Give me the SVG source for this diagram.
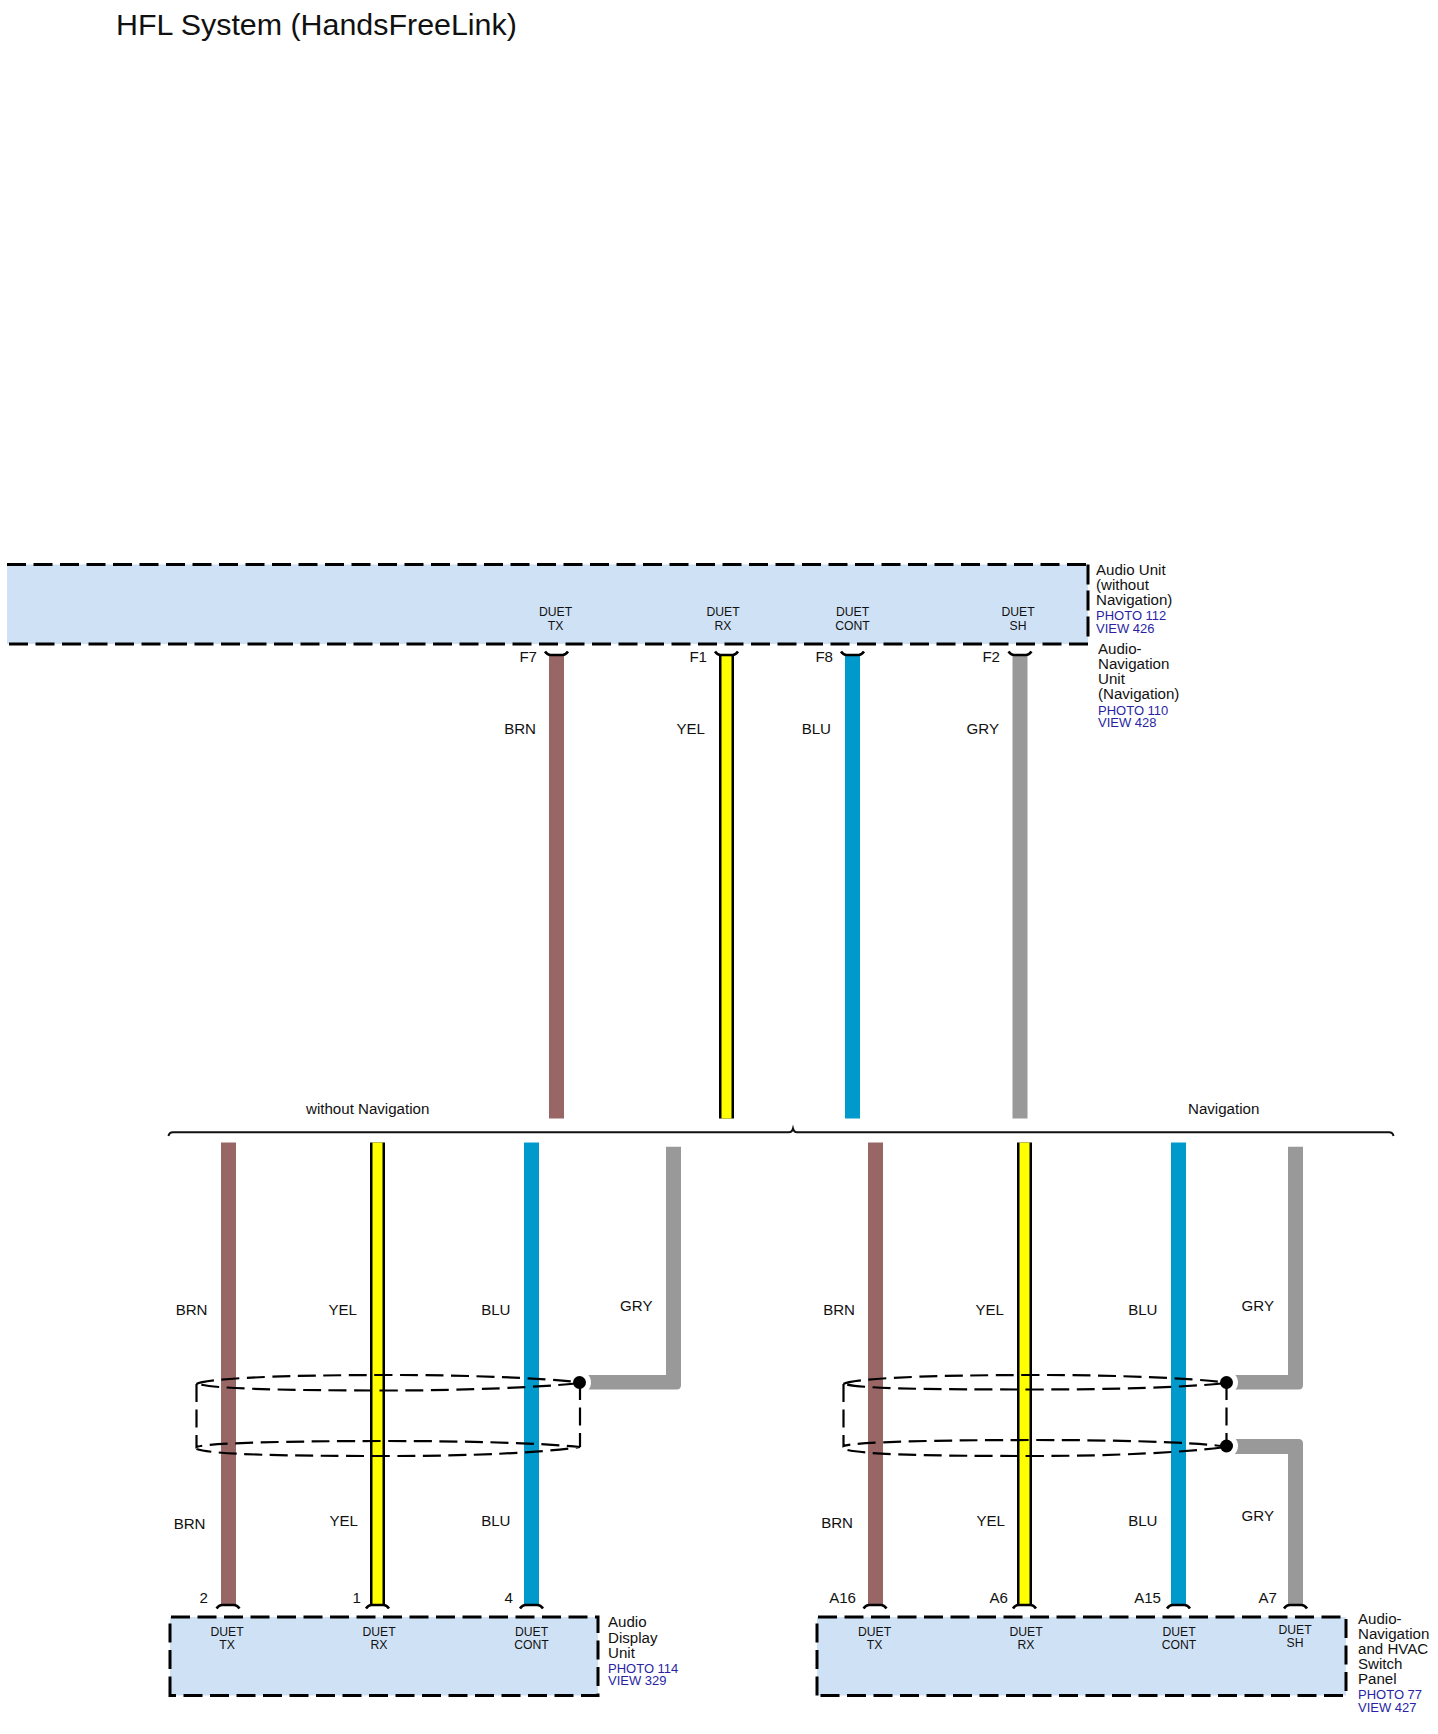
<svg xmlns="http://www.w3.org/2000/svg" xmlns:xlink="http://www.w3.org/1999/xlink" width="1438" height="1734" viewBox="0 0 1438 1734">
<style>
text{font-family:"Liberation Sans",Arial,sans-serif;fill:#111}
.title{font-size:30.400px}
.lbl{font-size:15.100px}
.pin{font-size:12.200px;text-anchor:middle}
.r{text-anchor:end}
.link{font-size:13px;fill:#2a1fa5}
.box{fill:#cfe2f5;stroke:none}
.dash{fill:none;stroke:#000;stroke-width:3;stroke-dasharray:19 7.5}
.shield{fill:none;stroke:#000;stroke-width:2.200;stroke-dasharray:18 7.500}
.brn{fill:#996666}.blu{fill:#0099cc}.gry{fill:#999999}
.yel{fill:#ffff00}.edge{fill:#000}
.halo{fill:#fff}
.cap{fill:none;stroke:#000;stroke-width:2.600}
.brace{fill:none;stroke:#111;stroke-width:2}
</style>
<defs>
<path id="capTop" class="cap" d="M-11.500 -3.500Q-9 0 -6 0H6Q9 0 11.500 -3.500"/>
<path id="capBot" class="cap" d="M-11.500 3.500Q-9 0 -6 0H6Q9 0 11.500 3.500"/>
<path id="lensL" d="M196.500 1384C205 1378 290 1375 388 1375C470 1375 540 1378 576 1382M576 1383.500C540 1387 470 1390.500 388 1390.500C290 1390.500 215 1389 198 1384M196.500 1384V1447C205 1443 290 1441 388 1441C470 1441 540 1443 580 1447C540 1453 470 1456 388 1456C290 1456 215 1455 196.500 1449"/>
<path id="lensR" d="M843.500 1384C852 1378 937 1375 1035 1375C1117 1375 1187 1378 1222 1382M1222 1383.500C1187 1387 1117 1389.500 1035 1389.500C937 1389.500 862 1389 845 1384M843.500 1384V1446C852 1442 937 1440 1035 1440C1117 1440 1187 1442 1222 1446M1222 1447.500C1187 1452 1117 1456 1035 1456C937 1456 862 1455 843.500 1449"/>
</defs>
<rect width="1438" height="1734" fill="#fff"/>
<text class="title" x="116" y="35">HFL System (HandsFreeLink)</text>

<g id="node-audio-unit">
<rect class="box" x="7" y="564.500" width="1081" height="79.500"/>
<path class="dash" d="M7 564.500H1088"/>
<path class="dash" d="M9 644H1089"/>
<path class="dash" d="M1088 564.500V640" style="stroke-dasharray:20 6"/>
<text class="pin"><tspan x="555.500" y="616">DUET</tspan><tspan x="555.500" y="630">TX</tspan></text>
<text class="pin"><tspan x="723" y="616">DUET</tspan><tspan x="723" y="630">RX</tspan></text>
<text class="pin"><tspan x="852.500" y="616">DUET</tspan><tspan x="852.500" y="630">CONT</tspan></text>
<text class="pin"><tspan x="1018" y="616">DUET</tspan><tspan x="1018" y="630">SH</tspan></text>
<text class="lbl"><tspan x="1096" y="575">Audio Unit</tspan><tspan x="1096" y="590">(without</tspan><tspan x="1096" y="605">Navigation)</tspan></text>
<text class="link"><tspan x="1096" y="620">PHOTO 112</tspan><tspan x="1096" y="633">VIEW 426</tspan></text>
<text class="lbl"><tspan x="1098" y="654">Audio-</tspan><tspan x="1098" y="669">Navigation</tspan><tspan x="1098" y="684">Unit</tspan><tspan x="1098" y="699">(Navigation)</tspan></text>
<text class="link"><tspan x="1098" y="715">PHOTO 110</tspan><tspan x="1098" y="727">VIEW 428</tspan></text>
<text class="lbl r" x="537" y="662">F7</text>
<text class="lbl r" x="707" y="662">F1</text>
<text class="lbl r" x="833" y="662">F8</text>
<text class="lbl r" x="1000" y="662">F2</text>
</g>

<g id="node-audio-display">
<rect class="box" x="170" y="1617" width="428" height="78.500"/>
<path class="dash" d="M170 1695.500V1617H598V1695.500Z"/>
<text class="pin"><tspan x="227" y="1635.500">DUET</tspan><tspan x="227" y="1649">TX</tspan></text>
<text class="pin"><tspan x="379" y="1635.500">DUET</tspan><tspan x="379" y="1649">RX</tspan></text>
<text class="pin"><tspan x="531.500" y="1635.500">DUET</tspan><tspan x="531.500" y="1649">CONT</tspan></text>
<text class="lbl"><tspan x="608" y="1627">Audio</tspan><tspan x="608" y="1643">Display</tspan><tspan x="608" y="1657.500">Unit</tspan></text>
<text class="link"><tspan x="608" y="1673">PHOTO 114</tspan><tspan x="608" y="1685">VIEW 329</tspan></text>
<text class="lbl r" x="208" y="1603">2</text>
<text class="lbl r" x="361" y="1603">1</text>
<text class="lbl r" x="513" y="1603">4</text>
</g>

<g id="node-hvac-panel">
<rect class="box" x="817" y="1617" width="529" height="78.500"/>
<path class="dash" d="M817 1695.500V1617H1346V1695.500Z"/>
<text class="pin"><tspan x="874.500" y="1635.500">DUET</tspan><tspan x="874.500" y="1648.500">TX</tspan></text>
<text class="pin"><tspan x="1026" y="1635.500">DUET</tspan><tspan x="1026" y="1648.500">RX</tspan></text>
<text class="pin"><tspan x="1179" y="1635.500">DUET</tspan><tspan x="1179" y="1648.500">CONT</tspan></text>
<text class="pin"><tspan x="1295" y="1633.500">DUET</tspan><tspan x="1295" y="1646.500">SH</tspan></text>
<text class="lbl"><tspan x="1358" y="1624">Audio-</tspan><tspan x="1358" y="1639">Navigation</tspan><tspan x="1358" y="1654">and HVAC</tspan><tspan x="1358" y="1669">Switch</tspan><tspan x="1358" y="1684">Panel</tspan></text>
<text class="link"><tspan x="1358" y="1699">PHOTO 77</tspan><tspan x="1358" y="1712">VIEW 427</tspan></text>
<text class="lbl r" x="856" y="1603">A16</text>
<text class="lbl r" x="1008" y="1603">A6</text>
<text class="lbl r" x="1161" y="1603">A15</text>
<text class="lbl r" x="1277" y="1603">A7</text>
</g>

<g id="connectors">
<rect class="brn" x="549" y="655" width="15" height="463.500"/>
<rect class="edge" x="719" y="655" width="15" height="463.500"/>
<rect class="yel" x="721.500" y="655" width="10" height="463.500"/>
<rect class="blu" x="845" y="655" width="15" height="463.500"/>
<rect class="gry" x="1012.500" y="655" width="15" height="463.500"/>
<use xlink:href="#capTop" href="#capTop" x="556.500" y="655"/>
<use xlink:href="#capTop" href="#capTop" x="726.500" y="655"/>
<use xlink:href="#capTop" href="#capTop" x="852.500" y="655"/>
<use xlink:href="#capTop" href="#capTop" x="1020" y="655"/>

<path class="brace" d="M168.500 1136Q169 1132.500 173 1132.300H789Q792 1132.300 793 1128.500Q794 1132.300 797 1132.300H1389Q1393 1132.500 1393.500 1136"/>

<rect class="brn" x="221" y="1142.500" width="15" height="461.500"/>
<rect class="edge" x="370" y="1142.500" width="15" height="461.500"/>
<rect class="yel" x="372.500" y="1142.500" width="10" height="461.500"/>
<rect class="blu" x="524" y="1142.500" width="15" height="461.500"/>
<path class="gry" d="M585 1375H666V1146.700H681V1385Q681 1389.500 676.500 1389.500H585Z"/>
<use xlink:href="#capBot" href="#capBot" x="228" y="1605"/>
<use xlink:href="#capBot" href="#capBot" x="377.500" y="1605"/>
<use xlink:href="#capBot" href="#capBot" x="531.500" y="1605"/>
<circle class="halo" cx="579.500" cy="1382.500" r="11.500"/>
<use xlink:href="#lensL" href="#lensL" class="shield"/>
<path class="shield" d="M580 1382V1447"/>
<circle cx="579.500" cy="1382.500" r="6.500"/>

<rect class="brn" x="868" y="1142.500" width="15" height="461.500"/>
<rect class="edge" x="1017" y="1142.500" width="15" height="461.500"/>
<rect class="yel" x="1019.500" y="1142.500" width="10" height="461.500"/>
<rect class="blu" x="1171" y="1142.500" width="15" height="461.500"/>
<path class="gry" d="M1232 1375H1288V1146.700H1303V1385Q1303 1389.500 1298.500 1389.500H1232Z"/>
<path class="gry" d="M1232 1439H1298.500Q1303 1439 1303 1443.500V1604H1288V1454H1232Z"/>
<use xlink:href="#capBot" href="#capBot" x="875" y="1605"/>
<use xlink:href="#capBot" href="#capBot" x="1024.500" y="1605"/>
<use xlink:href="#capBot" href="#capBot" x="1178.500" y="1605"/>
<use xlink:href="#capBot" href="#capBot" x="1295.500" y="1605"/>
<circle class="halo" cx="1226.500" cy="1382.500" r="11.500"/>
<circle class="halo" cx="1226.500" cy="1446" r="11.500"/>
<use xlink:href="#lensR" href="#lensR" class="shield"/>
<path class="shield" d="M1226.500 1382V1446"/>
<circle cx="1226.500" cy="1382.500" r="6.500"/>
<circle cx="1226.500" cy="1446" r="6.500"/>

<text class="lbl r" x="536" y="734">BRN</text>
<text class="lbl r" x="705" y="734">YEL</text>
<text class="lbl r" x="831" y="734">BLU</text>
<text class="lbl r" x="999" y="734">GRY</text>
<text class="lbl" x="306" y="1114">without Navigation</text>
<text class="lbl" x="1188" y="1114">Navigation</text>
<text class="lbl r" x="207.500" y="1315">BRN</text>
<text class="lbl r" x="357" y="1315">YEL</text>
<text class="lbl r" x="510.500" y="1315">BLU</text>
<text class="lbl r" x="652.500" y="1310.500">GRY</text>
<text class="lbl r" x="205.500" y="1528.500">BRN</text>
<text class="lbl r" x="358" y="1526">YEL</text>
<text class="lbl r" x="510.500" y="1526">BLU</text>
<text class="lbl r" x="855" y="1314.500">BRN</text>
<text class="lbl r" x="1004" y="1314.500">YEL</text>
<text class="lbl r" x="1157.500" y="1314.500">BLU</text>
<text class="lbl r" x="1274" y="1310.500">GRY</text>
<text class="lbl r" x="853" y="1528">BRN</text>
<text class="lbl r" x="1005" y="1525.500">YEL</text>
<text class="lbl r" x="1157.500" y="1525.500">BLU</text>
<text class="lbl r" x="1274" y="1521">GRY</text>
</g>
</svg>
